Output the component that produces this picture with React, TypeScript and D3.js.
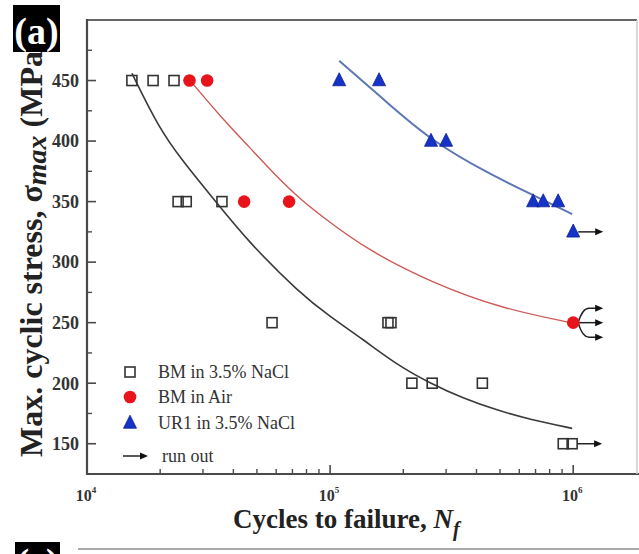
import React from "react";
import * as d3 from "d3";

// ---- data ----
const bmNaClN = [15300, 18700, 22800, 23700, 25600, 35900, 57700, 173000, 178000, 217000, 263000, 423000, 910000, 990000];
const bmNaClS = [450, 450, 450, 350, 350, 350, 250, 250, 250, 200, 200, 200, 150, 150];

const bmAirN = [26400, 31200, 44300, 67800, 1000000];
const bmAirS = [450, 450, 350, 350, 250];

const ur1N = [109000, 159000, 260000, 300000, 684000, 753000, 867000, 1000000];
const ur1S = [450, 450, 400, 400, 350, 350, 350, 325];

// fitted curves
const bmNaClFitN = [15300, 19600, 24600, 33700, 45500, 75300, 100000, 137000, 189000, 258000, 352000, 487000, 665000, 990000];
const bmNaClFitS = [456, 412, 384, 350.5, 318, 274, 255, 236, 215, 200, 187.5, 177.6, 170, 162.7];

const bmAirFitN = [27000, 35200, 46900, 59400, 75300, 91000, 142000, 265000, 501000, 1000000];
const bmAirFitS = [448.3, 420.8, 394.3, 372, 352, 338.9, 310, 282.6, 262, 249.6];

const ur1FitN = [109000, 172000, 258000, 443000, 684000, 990000];
const ur1FitS = [466.4, 431.6, 401, 373.6, 355.4, 339.7];

// run-out arrows: start point and stress level at the arrow tip
const runOutN = [990000, 1000000, 1000000, 1000000, 1000000];
const runOutS = [150, 250, 250, 250, 325];
const runOutEndS = [150, 262, 250, 238, 325];

const yMajor = [150, 200, 250, 300, 350, 400, 450];
const yMinor = [175, 225, 275, 325, 375, 425, 475];
const xMajor = [1e4, 1e5, 1e6];
const xExp = ["4", "5", "6"];

const legendLabels = ["BM in 3.5% NaCl", "BM in Air", "UR1 in 3.5% NaCl", "run out"];

const FONT = "'Liberation Serif', 'Times New Roman', serif";

export default function App() {
  const W = 639, H = 554;
  const x = d3.scaleLog().domain([1e4, 1.83e6]).range([87, 637]);
  const y = d3.scaleLinear().domain([125, 500]).range([474, 20]);
  const [x0, x1] = x.range();
  const [yb, yt] = y.range();

  const line = d3
    .line<[number, number]>()
    .x((d) => x(d[0]))
    .y((d) => y(d[1]))
    .curve(d3.curveBasis);

  const zip = (a: number[], b: number[]) => a.map((v, i) => [v, b[i]] as [number, number]);

  const xMinor: number[] = [];
  [1e4, 1e5, 1e6].forEach((d) => {
    for (let k = 2; k <= 9; k++) if (d * k <= 1.83e6) xMinor.push(d * k);
  });

  const axisColor = "#4a4a4a";
  const sq = 10;
  const tri = (cx: number, cy: number, w = 13, h = 13) =>
    `M${cx},${cy - h * 0.6} L${cx + w / 2},${cy + h * 0.4} L${cx - w / 2},${cy + h * 0.4} Z`;

  const arrowHead = (tx: number, ty: number) =>
    `M${tx},${ty} L${tx - 8},${ty - 3.5} L${tx - 8},${ty + 3.5} Z`;

  const runOutPaths = runOutN.map((n, i) => {
    const sx = x(n);
    const sy = y(runOutS[i]);
    const ey = y(runOutEndS[i]);
    const tip = sx + 30;
    const start = sx + 5;
    let d: string;
    if (Math.abs(ey - sy) < 0.5) d = `M${start},${sy} L${tip - 6},${ey}`;
    else d = `M${start},${sy} Q${start + 4},${ey} ${start + 11},${ey} L${tip - 6},${ey}`;
    return { d, head: arrowHead(tip, ey) };
  });

  const legX = 130;
  const legY = [372, 397, 423, 456];

  return (
    <svg
      width={W}
      height={H}
      style={{ position: "absolute", left: 0, top: 0, background: "#fff" }}
      fontFamily={FONT}
    >
      <rect x={0} y={0} width={W} height={H} fill="#fff" />

      {/* fitted curves */}
      <path d={line(zip(bmNaClFitN, bmNaClFitS)) || ""} fill="none" stroke="#3a3a3a" strokeWidth={1.6} />
      <path d={line(zip(bmAirFitN, bmAirFitS)) || ""} fill="none" stroke="#cc5a58" strokeWidth={1.4} />
      <path d={line(zip(ur1FitN, ur1FitS)) || ""} fill="none" stroke="#5d77b5" strokeWidth={2} />

      {/* run-out arrows */}
      {runOutPaths.map((p, i) => (
        <g key={"ro" + i}>
          <path d={p.d} fill="none" stroke="#222" strokeWidth={1.5} />
          <path d={p.head} fill="#111" />
        </g>
      ))}

      {/* markers */}
      {bmNaClN.map((n, i) => (
        <rect
          key={"s" + i}
          x={x(n) - sq / 2}
          y={y(bmNaClS[i]) - sq / 2}
          width={sq}
          height={sq}
          fill="none"
          stroke="#333"
          strokeWidth={1.6}
        />
      ))}
      {bmAirN.map((n, i) => (
        <circle key={"c" + i} cx={x(n)} cy={y(bmAirS[i])} r={6.3} fill="#e8141c" />
      ))}
      {ur1N.map((n, i) => (
        <path key={"t" + i} d={tri(x(n), y(ur1S[i]))} fill="#1533c6" stroke="#0b1f95" strokeWidth={0.8} />
      ))}

      {/* frame */}
      <line x1={x0} y1={yt} x2={x1} y2={yt} stroke="#666" strokeWidth={2.2} />
      <line x1={x0} y1={yb} x2={x1 + 2} y2={yb} stroke={axisColor} strokeWidth={2.2} />
      <line x1={x0} y1={yt - 1} x2={x0} y2={yb + 1} stroke={axisColor} strokeWidth={2.2} />
      <line x1={x1} y1={yt} x2={x1} y2={yb} stroke="#ccc" strokeWidth={1.5} />

      {/* y ticks */}
      {yMajor.map((v) => (
        <g key={"ym" + v}>
          <line x1={x0} x2={x0 + 9} y1={y(v)} y2={y(v)} stroke={axisColor} strokeWidth={1.6} />
          <text
            x={x0 - 8}
            y={y(v)}
            dy="0.35em"
            textAnchor="end"
            fontSize={18}
            fontWeight="bold"
            fill="#333"
          >
            {v}
          </text>
        </g>
      ))}
      {yMinor.map((v) => (
        <line key={"yn" + v} x1={x0} x2={x0 + 5} y1={y(v)} y2={y(v)} stroke={axisColor} strokeWidth={1.4} />
      ))}

      {/* x ticks */}
      {xMajor.map((v, i) => (
        <g key={"xm" + v}>
          <line x1={x(v)} x2={x(v)} y1={yb} y2={yb - 9} stroke={axisColor} strokeWidth={1.6} />
          <text x={x(v) - 1} y={501} textAnchor="middle" fontSize={16} fontWeight="bold" fill="#333">
            10
            <tspan dy={-8} fontSize={9}>
              {xExp[i]}
            </tspan>
          </text>
        </g>
      ))}
      {xMinor.map((v) => (
        <line key={"xn" + v} x1={x(v)} x2={x(v)} y1={yb} y2={yb - 5} stroke={axisColor} strokeWidth={1.4} />
      ))}

      {/* legend */}
      <rect x={legX - 5} y={legY[0] - 5} width={10} height={10} fill="none" stroke="#333" strokeWidth={1.6} />
      <circle cx={legX} cy={legY[1]} r={6.3} fill="#e8141c" />
      <path d={tri(legX, legY[2])} fill="#1533c6" stroke="#0b1f95" strokeWidth={0.8} />
      <line x1={legX - 7} x2={legX + 12} y1={legY[3]} y2={legY[3]} stroke="#222" strokeWidth={1.5} />
      <path d={arrowHead(legX + 18, legY[3])} fill="#111" />
      {legendLabels.map((t, i) => (
        <text
          key={"lg" + i}
          x={i === 3 ? 162 : 158}
          y={legY[i]}
          dy="0.33em"
          fontSize={18}
          fill="#333"
        >
          {t}
        </text>
      ))}

      {/* axis titles */}
      <text x={233} y={528} fontSize={27} fontWeight="bold" fill="#222">
        Cycles to failure,{" "}
        <tspan fontStyle="italic">N</tspan>
        <tspan fontStyle="italic" fontSize={20} dy={8}>
          f
        </tspan>
      </text>
      <text
        transform="translate(42,457) rotate(-90)"
        fontSize={32}
        fontWeight="bold"
        fill="#222"
      >
        Max. cyclic stress, σ
        <tspan fontStyle="italic" dy={4} fontSize={28}>
          max
        </tspan>
        <tspan dy={-4}> (MPa)</tspan>
      </text>

      {/* panel label */}
      <rect x={13} y={5} width={47} height={47} fill="#000" />
      <text x={36.5} y={44} textAnchor="middle" fontSize={38} fontWeight="bold" fill="#fff">
        (a)
      </text>

      {/* top of next panel */}
      <line x1={78} x2={W} y1={549} y2={549} stroke="#aaa" strokeWidth={2} />
      <rect x={15} y={542} width={45} height={12} fill="#000" />
      <text x={37.5} y={575} textAnchor="middle" fontSize={38} fontWeight="bold" fill="#fff">
        (c)
      </text>
    </svg>
  );
}
